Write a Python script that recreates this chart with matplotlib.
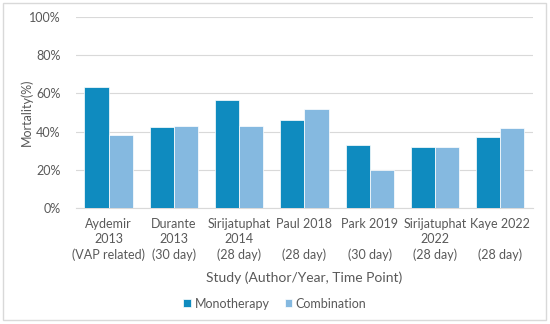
import matplotlib.pyplot as plt
import numpy as np
from matplotlib.patches import Rectangle

studies = ["Aydemir\n2013\n(VAP related)", "Durante\n2013\n(30 day)", "Sirijatuphat\n2014\n(28 day)",
           "Paul 2018\n\n(28 day)", "Park 2019\n\n(30 day)", "Sirijatuphat\n2022\n(28 day)",
           "Kaye 2022\n\n(28 day)"]
monotherapy = [63.5, 42.5, 56.5, 46, 33, 32, 37]
combination = [38, 43, 43, 52, 20, 32, 42]

c_mono = "#0F8BBF"
c_comb = "#85B9E0"
gris = "#595959"

plt.rcParams['font.family'] = ['Lato', 'DejaVu Sans']

fig = plt.figure(figsize=(5.5, 3.24), dpi=100)
ax = fig.add_axes([0.138, 0.358, 0.831, 0.59])
fig.patches.append(Rectangle((0.006, 0.012), 0.986, 0.978, transform=fig.transFigure,
                             fill=False, edgecolor="#D9D9D9", linewidth=1))

x = np.arange(len(studies))
w = 0.37
ax.bar(x - w / 2, monotherapy, w, color=c_mono, edgecolor="white", linewidth=0.5,
       label="Monotherapy", zorder=3)
ax.bar(x + w / 2, combination, w, color=c_comb, edgecolor="white", linewidth=0.5,
       label="Combination", zorder=3)

ax.set_xlim(-0.5, len(studies) - 0.5)
ax.set_ylim(0, 100)
ax.set_yticks(np.arange(0, 101, 20))
ax.set_yticklabels([f"{v}%" for v in range(0, 101, 20)])
ax.yaxis.grid(True, color="#D9D9D9", linewidth=0.8, zorder=0)
for s in ["top", "right", "left"]:
  ax.spines[s].set_visible(False)
ax.spines["bottom"].set_color("#D9D9D9")
ax.tick_params(axis="both", length=0, colors=gris, labelsize=9)
ax.tick_params(axis="y", pad=11)
ax.set_xticks(x)
ax.set_xticklabels(studies, linespacing=1.35)
ax.tick_params(axis="x", pad=7)

ax.set_ylabel("Mortality(%)", color=gris, fontsize=9)
ax.yaxis.set_label_coords(-0.094, 0.5)
ax.set_xlabel("Study (Author/Year, Time Point)", color=gris, fontsize=10, labelpad=7)

fig.legend(loc="lower center", bbox_to_anchor=(0.5, 0.01), ncol=2, frameon=False,
           fontsize=9, handlelength=0.6, handleheight=0.6, handletextpad=0.3,
           columnspacing=1.2, labelcolor=gris)

fig.savefig("out.png", dpi=100)
